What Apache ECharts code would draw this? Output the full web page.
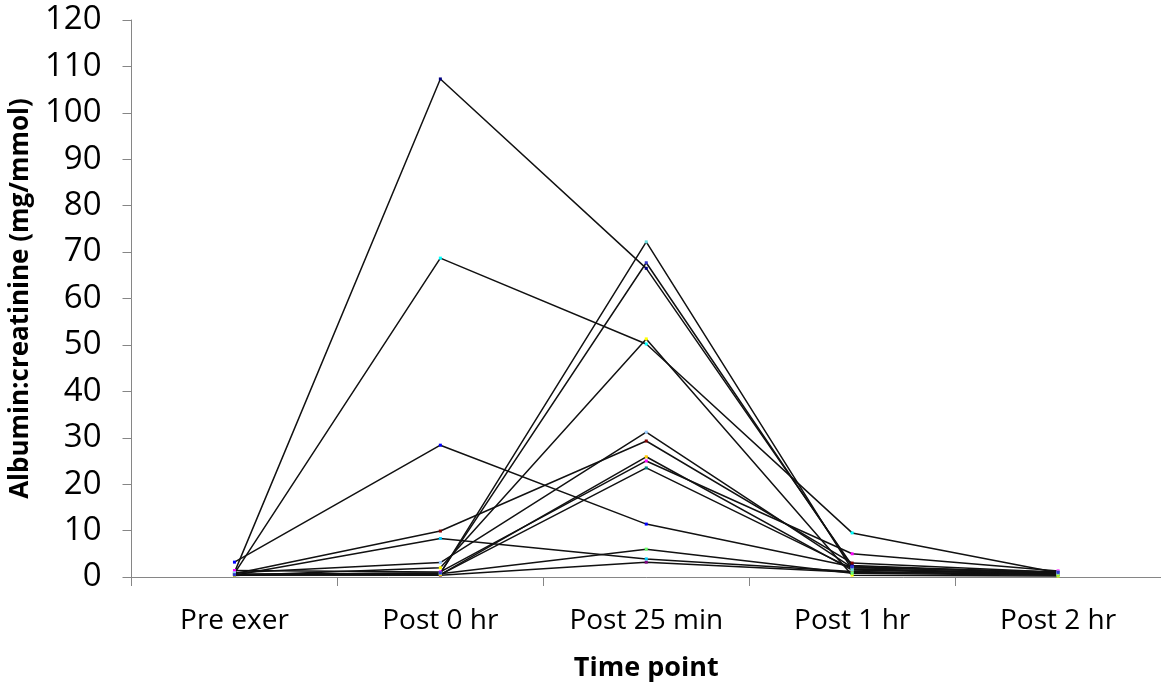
<!DOCTYPE html>
<html>
<head>
<meta charset="utf-8">
<script src="https://cdn.jsdelivr.net/npm/echarts@6/dist/echarts.min.js"></script>
<style>
  html, body { margin: 0; padding: 0; background: #fff; }
  #chart { width: 1161px; height: 689px; }
</style>
</head>
<body>
<div id="chart"></div>
<script>
// Time points along the x axis
const timePoints = ['Pre exer', 'Post 0 hr', 'Post 25 min', 'Post 1 hr', 'Post 2 hr'];

// Albumin:creatinine (mg/mmol) per participant, one array per subject
const subject01 = [1.0, 107.3, 66.5, 2.5, 0.8];
const subject02 = [1.4, 1.1, 25.0, 5.0, 1.3];
const subject03 = [0.3, 2.0, 51.3, 0.4, 0.2];
const subject04 = [0.8, 68.7, 50.2, 9.5, 0.9];
const subject05 = [0.5, 0.4, 3.2, 1.0, 0.6];
const subject06 = [0.7, 9.9, 29.3, 3.0, 1.0];
const subject07 = [0.6, 0.5, 23.5, 1.8, 0.7];
const subject08 = [3.2, 28.4, 11.4, 2.2, 0.9];
const subject09 = [0.4, 8.3, 3.9, 1.2, 0.5];
const subject10 = [0.9, 3.1, 31.2, 2.0, 1.1];
const subject11 = [0.5, 0.7, 6.0, 0.8, 0.4];
const subject12 = [0.4, 0.5, 25.9, 1.5, 0.6];
const subject13 = [0.6, 0.8, 72.2, 1.6, 0.8];
const subject14 = [0.5, 0.9, 67.7, 2.2, 1.0];

const subjects = [subject01, subject02, subject03, subject04, subject05, subject06, subject07,
                  subject08, subject09, subject10, subject11, subject12, subject13, subject14];

// Marker colours, one per subject
const markerColors = ['#000080', '#FF00FF', '#FFFF00', '#00FFFF', '#800080', '#800000', '#008080',
                      '#0000FF', '#00CCFF', '#99CCFF', '#66FF66', '#FFCC00', '#66DDDD', '#3333CC'];

// Y axis range and step
const yMin = 0, yMax = 120, yStep = 10;

const font = '"Open Sans", "Noto Sans", sans-serif';
const axisGrey = '#868686';

const chart = echarts.init(document.getElementById('chart'), null, { renderer: 'canvas' });

chart.setOption({
  animation: false,
  backgroundColor: '#ffffff',
  grid: { left: 131, right: 0, top: 20, bottom: 112, containLabel: false },
  xAxis: {
    type: 'category',
    data: timePoints,
    boundaryGap: true,
    name: 'Time point',
    nameLocation: 'middle',
    nameGap: 78,
    nameTextStyle: { fontFamily: font, fontSize: 27, fontWeight: 'bold', color: '#000' },
    axisLine: { lineStyle: { color: axisGrey, width: 1 } },
    axisTick: { show: true, length: 9, inside: false, alignWithLabel: false, lineStyle: { color: axisGrey } },
    axisLabel: { fontFamily: font, fontSize: 28, color: '#000', margin: 30 },
    splitLine: { show: false }
  },
  yAxis: {
    type: 'value',
    min: yMin,
    max: yMax,
    interval: yStep,
    name: 'Albumin:creatinine (mg/mmol)',
    nameLocation: 'middle',
    nameGap: 88,
    nameTextStyle: { fontFamily: font, fontSize: 26, fontWeight: 'bold', color: '#000' },
    axisLine: { show: true, lineStyle: { color: axisGrey, width: 1 } },
    axisTick: { show: true, length: 9, inside: false, lineStyle: { color: axisGrey } },
    axisLabel: { fontFamily: font, fontSize: 33, color: '#000', margin: 30 },
    splitLine: { show: false }
  },
  series: subjects.map((values, i) => ({
    type: 'line',
    name: 'Subject ' + (i + 1),
    data: values,
    symbol: 'rect',
    symbolSize: 3,
    showSymbol: true,
    itemStyle: { color: markerColors[i] },
    lineStyle: { color: '#111', width: 1.5 },
    z: 2
  }))
});
</script>
</body>
</html>
